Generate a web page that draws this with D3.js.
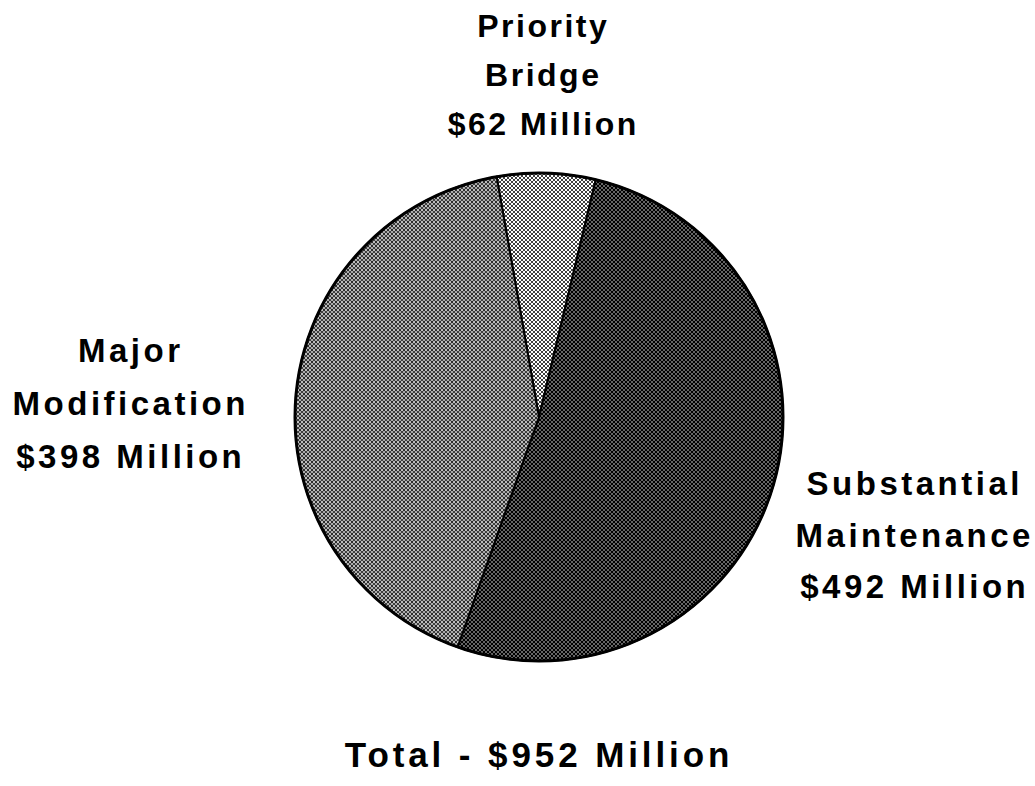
<!DOCTYPE html>
<html>
<head>
<meta charset="utf-8">
<script src="https://cdn.jsdelivr.net/npm/d3@7"></script>
<style>
  html, body { margin: 0; padding: 0; background: #fff; }
  svg { display: block; }
</style>
</head>
<body>
<div id="chart"></div>
<script>
// ── Data ────────────────────────────────────────────────────────────────────
const categories = ['Priority Bridge', 'Substantial Maintenance', 'Major Modification'];
const values     = [62, 492, 398];                  // $ millions
const labelLines = [
  ['Priority', 'Bridge', '$62 Million'],
  ['Substantial', 'Maintenance', '$492 Million'],
  ['Major', 'Modification', '$398 Million']
];
const totalLabel = 'Total - $952 Million';

// ── Layout ──────────────────────────────────────────────────────────────────
const W = 1035, H = 786;
const CX = 539, CY = 417, R = 244;
const START = -10 * Math.PI / 180;

// label blocks: centre x, first baseline, line step, font size, letter spacing
const labelPos = [
  { x: 542, y: 37,  step: 49, size: 32, ls: 2.5 },
  { x: 913, y: 495, step: 51.5, size: 33, ls: 3.5 },
  { x: 129, y: 362, step: 53, size: 33, ls: 3.5 }
];

const svg = d3.select('#chart').append('svg')
  .attr('width', W).attr('height', H);

// ── Halftone-like fills ─────────────────────────────────────────────────────
const defs = svg.append('defs');

function dotPattern(id, bg, dots) {
  const p = defs.append('pattern')
    .attr('id', id).attr('patternUnits', 'userSpaceOnUse')
    .attr('width', 4).attr('height', 4);
  p.append('rect').attr('width', 4).attr('height', 4).attr('fill', bg);
  dots.forEach(d => p.append('circle')
    .attr('cx', d[0]).attr('cy', d[1]).attr('r', d[2]).attr('fill', d[3]));
}

dotPattern('pat-light', '#fff', [[1, 1, 1.0, '#000'], [3, 3, 1.0, '#000']]);
dotPattern('pat-dark',  '#000', [[1, 1, 0.75, '#fff'], [3, 3, 0.75, '#fff']]);
dotPattern('pat-mid',   '#ababab', [[1, 1, 1.0, '#000'], [3, 3, 0.95, '#111'], [3, 1, 0.6, '#fff']]);

const fills = ['url(#pat-light)', 'url(#pat-dark)', 'url(#pat-mid)'];

// ── Pie ─────────────────────────────────────────────────────────────────────
const pie = d3.pie().sort(null)
  .startAngle(START).endAngle(START + 2 * Math.PI);
const arc = d3.arc().innerRadius(0).outerRadius(R);

const g = svg.append('g').attr('transform', `translate(${CX},${CY})`);

g.selectAll('path.slice')
  .data(pie(values))
  .join('path')
  .attr('class', 'slice')
  .attr('d', arc)
  .attr('fill', (d, i) => fills[i])
  .attr('stroke', '#000')
  .attr('stroke-width', 2)
  .attr('stroke-linejoin', 'round');

g.append('circle')
  .attr('r', R).attr('fill', 'none')
  .attr('stroke', '#000').attr('stroke-width', 3);

// ── Labels ──────────────────────────────────────────────────────────────────
labelLines.forEach((lines, i) => {
  const p = labelPos[i];
  const t = svg.append('text')
    .attr('text-anchor', 'middle')
    .attr('font-family', '"Liberation Sans", Arial, Helvetica, sans-serif')
    .attr('font-weight', 'bold')
    .attr('font-size', p.size)
    .attr('letter-spacing', p.ls)
    .attr('fill', '#000')
    .attr('aria-label', categories[i]);
  lines.forEach((s, j) => t.append('tspan')
    .attr('x', p.x + p.ls / 2).attr('y', p.y + j * p.step).text(s));
});

svg.append('text')
  .attr('x', 537 + 2).attr('y', 767)
  .attr('text-anchor', 'middle')
  .attr('font-family', '"Liberation Sans", Arial, Helvetica, sans-serif')
  .attr('font-weight', 'bold')
  .attr('font-size', 35)
  .attr('letter-spacing', 3.9)
  .attr('fill', '#000')
  .text(totalLabel);
</script>
</body>
</html>
